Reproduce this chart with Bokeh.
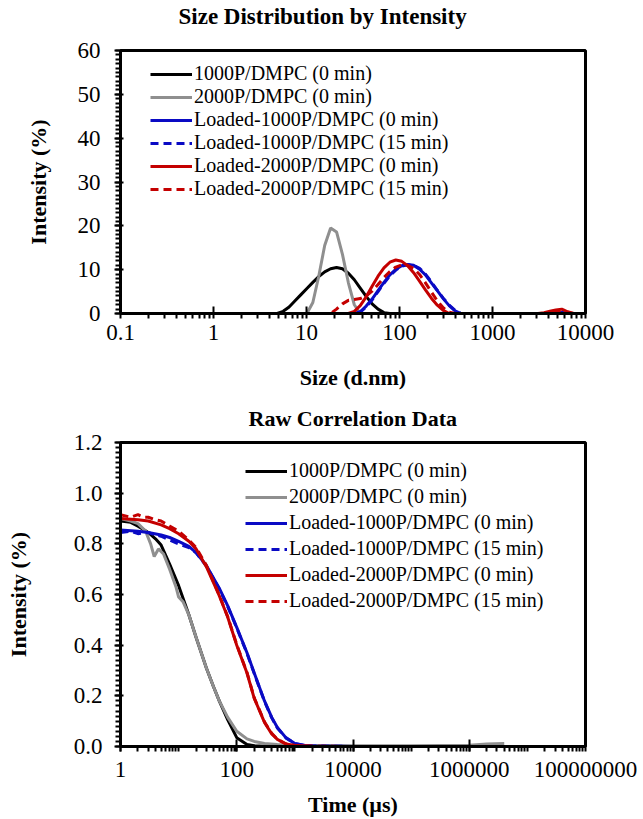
from bokeh.plotting import figure
from bokeh.layouts import column
from bokeh.models import (Range1d, FixedTicker, CustomJSTickFormatter, NumeralTickFormatter,
                          Legend, LegendItem, Title)
from bokeh.embed import file_html
from bokeh.resources import INLINE

# ---------------- data ----------------
SERIES = ["1000P/DMPC (0 min)", "2000P/DMPC (0 min)", "Loaded-1000P/DMPC (0 min)",
          "Loaded-1000P/DMPC (15 min)", "Loaded-2000P/DMPC (0 min)", "Loaded-2000P/DMPC (15 min)"]
COLORS = ["#000000", "#8f8f8f", "#0a0ac4", "#0a0ac4", "#c40000", "#c40000"]
DASHES = ["solid", "solid", "solid", "8 5", "solid", "8 5"]

size_nm = [0.4, 0.4632, 0.5365, 0.6213, 0.7195, 0.8332, 0.9649, 1.117, 1.294, 1.499,
           1.736, 2.01, 2.328, 2.696, 3.122, 3.615, 4.187, 4.849, 5.615, 6.503,
           7.531, 8.721, 10.1, 11.7, 13.54, 15.69, 18.17, 21.04, 24.36, 28.21,
           32.67, 37.84, 43.82, 50.75, 58.77, 68.06, 78.82, 91.28, 105.7, 122.4,
           141.8, 164.2, 190.1, 220.2, 255.0, 295.3, 342.0, 396.1, 458.7, 531.2,
           615.1, 712.4, 825.0, 955.4, 1106, 1281, 1484, 1718, 1990, 2305,
           2669, 3091, 3580, 4145, 4801, 5560, 6439, 7456, 8635, 10000]

int_1000P = [0, 0, 0, 0, 0, 0, 0, 0, 0, 0,
             0, 0, 0, 0, 0, 0, 0, 0, 0.5, 1.5,
             2.9, 4.3, 5.7, 7.1, 8.4, 9.5, 10.2, 10.5, 10.2, 9.2,
             7.7, 5.8, 3.9, 2.2, 1.0, 0.2, 0, 0, 0, 0,
             0, 0, 0, 0, 0, 0, 0, 0, 0, 0,
             0, 0, 0, 0, 0, 0, 0, 0, 0, 0,
             0, 0, 0, 0, 0, 0, 0, 0, 0, 0]
int_2000P = [0, 0, 0, 0, 0, 0, 0, 0, 0, 0,
             0, 0, 0, 0, 0, 0, 0, 0, 0, 0,
             0, 0, 0, 2.5, 8.5, 15.5, 19.5, 18.6, 13.5, 7.0,
             2.0, 0, 0, 0, 0, 0, 0, 0, 0, 0,
             0, 0, 0, 0, 0, 0, 0, 0, 0, 0,
             0, 0, 0, 0, 0, 0, 0, 0, 0, 0,
             0, 0, 0, 0, 0, 0, 0, 0, 0, 0]
int_L1000_0 = [0, 0, 0, 0, 0, 0, 0, 0, 0, 0,
               0, 0, 0, 0, 0, 0, 0, 0, 0, 0,
               0, 0, 0, 0, 0, 0, 0, 0, 0, 0,
               0, 0.4, 1.7, 3.3, 5.2, 7.1, 8.8, 10.1, 10.9, 11.2,
               11.0, 10.1, 8.8, 7.0, 5.2, 3.4, 1.8, 0.6, 0, 0,
               0, 0, 0, 0, 0, 0, 0, 0, 0, 0,
               0, 0, 0, 0, 0, 0.3, 0, 0, 0, 0]
int_L1000_15 = [0, 0, 0, 0, 0, 0, 0, 0, 0, 0,
                0, 0, 0, 0, 0, 0, 0, 0, 0, 0,
                0, 0, 0, 0, 0, 0, 0, 0, 0, 0,
                0, 0.3, 1.5, 3.1, 5.0, 6.9, 8.6, 9.9, 10.8, 11.1,
                11.0, 10.3, 9.0, 7.2, 5.3, 3.5, 1.9, 0.7, 0, 0,
                0, 0, 0, 0, 0, 0, 0, 0, 0, 0,
                0, 0, 0, 0, 0, 0, 0, 0, 0, 0]
int_L2000_0 = [0, 0, 0, 0, 0, 0, 0, 0, 0, 0,
               0, 0, 0, 0, 0, 0, 0, 0, 0, 0,
               0, 0, 0, 0, 0, 0, 0, 0, 0, 0,
               0.5, 1.8, 3.8, 6.2, 8.5, 10.4, 11.7, 12.2, 11.9, 10.9,
               9.3, 7.4, 5.4, 3.5, 1.9, 0.7, 0, 0, 0, 0,
               0, 0, 0, 0, 0, 0, 0, 0, 0, 0,
               0, 0, 0.2, 0.5, 0.8, 1.0, 0.4, 0, 0, 0]
int_L2000_15 = [0, 0, 0, 0, 0, 0, 0, 0, 0, 0,
                0, 0, 0, 0, 0, 0, 0, 0, 0, 0,
                0, 0, 0, 0, 0, 0, 0, 1.0, 2.2, 3.0,
                3.2, 3.4, 4.0, 5.1, 6.6, 8.2, 9.6, 10.6, 11.1, 11.0,
                10.3, 8.9, 7.0, 4.9, 2.9, 1.3, 0.3, 0, 0, 0,
                0, 0, 0, 0, 0, 0, 0, 0, 0, 0,
                0, 0, 0, 0, 0.3, 0.6, 0.2, 0, 0, 0]

# Raw correlation data (time in microseconds)
t_1000P = [1, 1.5, 2, 3, 4, 5, 7, 10, 15, 20, 30, 40, 50, 70, 100, 150, 200, 300, 500,
           1000, 10000, 100000]
g_1000P = [0.89, 0.885, 0.87, 0.845, 0.82, 0.795, 0.72, 0.635, 0.52, 0.43, 0.31, 0.235, 0.18,
           0.105, 0.035, 0.008, 0.003, 0.001, 0, 0, 0, 0]
t_2000P = [1, 1.5, 2, 2.7, 3.3, 3.8, 4.5, 5.5, 7, 9, 10, 12, 15, 20, 30, 40, 50, 70, 100,
           150, 200, 300, 500, 1000, 10000, 100000, 1000000, 2000000, 4000000]
g_2000P = [0.90, 0.89, 0.88, 0.85, 0.80, 0.75, 0.78, 0.76, 0.70, 0.63, 0.59, 0.57, 0.52, 0.43,
           0.31, 0.235, 0.18, 0.115, 0.06, 0.03, 0.02, 0.012, 0.008, 0.005, 0.003, 0.003,
           0.005, 0.01, 0.012]
t_L1000_0 = [1, 2, 3, 5, 7, 10, 15, 20, 30, 50, 70, 100, 150, 200, 300, 400, 500, 700, 1000,
             1500, 2000, 5000, 10000, 100000]
g_L1000_0 = [0.855, 0.85, 0.845, 0.835, 0.825, 0.81, 0.79, 0.765, 0.715, 0.625, 0.555, 0.47,
             0.37, 0.29, 0.18, 0.115, 0.075, 0.035, 0.012, 0.004, 0.002, 0.001, 0, 0]
t_L1000_15 = [1, 1.5, 2, 3, 4, 5, 7, 10, 15, 20, 30, 50, 70, 100, 150, 200, 300, 400, 500,
              700, 1000, 1500, 2000, 5000, 10000]
g_L1000_15 = [0.845, 0.85, 0.84, 0.845, 0.835, 0.83, 0.815, 0.80, 0.785, 0.765, 0.712, 0.622,
              0.552, 0.468, 0.368, 0.288, 0.178, 0.113, 0.073, 0.034, 0.011, 0.004, 0.002,
              0.001, 0]
t_L2000_0 = [1, 2, 3, 5, 7, 10, 15, 20, 30, 50, 70, 100, 150, 200, 300, 400, 500, 700, 1000,
             2000, 10000, 100000, 1000000, 10000000, 60000000]
g_L2000_0 = [0.90, 0.895, 0.89, 0.875, 0.86, 0.84, 0.81, 0.78, 0.71, 0.595, 0.51, 0.40, 0.29,
             0.19, 0.095, 0.05, 0.028, 0.01, 0.004, 0.001, 0, 0, 0, 0, 0]
t_L2000_15 = [1, 1.5, 2, 2.5, 3, 4, 5, 7, 10, 15, 20, 30, 50, 70, 100, 150, 200, 300, 400,
              500, 700, 1000, 2000, 10000, 100000]
g_L2000_15 = [0.915, 0.905, 0.915, 0.905, 0.905, 0.895, 0.89, 0.87, 0.85, 0.815, 0.785, 0.715,
              0.598, 0.512, 0.402, 0.292, 0.192, 0.097, 0.052, 0.029, 0.011, 0.004, 0.001, 0, 0]

size_series = [int_1000P, int_2000P, int_L1000_0, int_L1000_15, int_L2000_0, int_L2000_15]
corr_t = [t_1000P, t_2000P, t_L1000_0, t_L1000_15, t_L2000_0, t_L2000_15]
corr_g = [g_1000P, g_2000P, g_L1000_0, g_L1000_15, g_L2000_0, g_L2000_15]

FONT = "Liberation Serif"


def add_title(p, text, offset, size, gap):
    # small spacer keeps the title clear of the frame, as in the reference
    p.add_layout(Title(text=" ", text_font_size="1px", standoff=gap), "above")
    p.add_layout(Title(text=text, text_font=FONT, text_font_size=size, text_font_style="bold",
                       text_color="black", align="left", offset=offset, standoff=2), "above")


def style(p):
    p.outline_line_color = "black"
    p.outline_line_width = 3
    p.outline_line_alpha = 1
    p.xgrid.visible = False
    p.ygrid.visible = False
    p.background_fill_color = "white"
    p.border_fill_color = "white"
    for ax in (p.xaxis[0], p.yaxis[0]):
        ax.axis_line_width = 3
        ax.axis_line_color = "black"
        ax.major_tick_line_width = 2
        ax.minor_tick_line_width = 2
        ax.major_tick_line_color = "black"
        ax.minor_tick_line_color = "black"
        ax.major_label_text_font = FONT
        ax.major_label_text_font_size = "23px"
        ax.major_label_text_color = "black"
        ax.axis_label_text_font = FONT
        ax.axis_label_text_font_size = "22px"
        ax.axis_label_text_font_style = "bold"
        ax.axis_label_text_color = "black"
    p.yaxis[0].major_tick_in = 3
    p.yaxis[0].major_tick_out = 6
    p.yaxis[0].minor_tick_in = 0
    p.yaxis[0].minor_tick_out = 5
    p.xaxis[0].major_tick_in = 7
    p.xaxis[0].major_tick_out = 5
    p.xaxis[0].minor_tick_in = 0
    p.xaxis[0].minor_tick_out = 5


def make_legend(p, renderers, loc, spacing):
    items = [LegendItem(label=n, renderers=[r]) for n, r in zip(SERIES, renderers)]
    lg = Legend(items=items, location=loc)
    lg.label_text_font = FONT
    lg.label_text_font_size = "20px"
    lg.label_text_color = "black"
    lg.glyph_width = 42
    lg.glyph_height = 20
    lg.label_height = 20
    lg.label_standoff = 2
    lg.spacing = spacing
    lg.padding = 0
    lg.margin = 0
    lg.border_line_color = None
    lg.background_fill_alpha = 0
    p.add_layout(lg, "center")


# ---------------- top: size distribution ----------------
p1 = figure(width=643, height=400, x_axis_type="log", output_backend="svg",
            toolbar_location=None,
            x_range=Range1d(0.1, 10000), y_range=Range1d(0, 60),
            min_border_left=120, min_border_right=38, min_border_top=48, min_border_bottom=87)
style(p1)
add_title(p1, "Size Distribution by Intensity", 58, "23px", 18)
rs = []
for ys, c, d in zip(size_series, COLORS, DASHES):
    rs.append(p1.line(size_nm, ys, line_color=c, line_width=3, line_dash=d))
make_legend(p1, rs, (30, 113), 0)

dec1 = [0.1, 1, 10, 100, 1000, 10000]
p1.xaxis[0].ticker = FixedTicker(ticks=dec1,
                                 minor_ticks=[k * d for d in dec1[:-1] for k in range(2, 10)])
p1.xaxis[0].formatter = CustomJSTickFormatter(code="return tick < 1 ? tick.toFixed(1) : tick.toFixed(0);")
p1.yaxis[0].ticker = FixedTicker(ticks=list(range(0, 61, 10)), minor_ticks=list(range(0, 61)))
p1.xaxis[0].axis_label = "Size (d.nm)"
p1.yaxis[0].axis_label = "Intensity (%)"
p1.xaxis[0].major_label_standoff = 6
p1.xaxis[0].axis_label_standoff = 22
p1.yaxis[0].major_label_standoff = 14
p1.yaxis[0].axis_label_standoff = 24

# ---------------- bottom: raw correlation ----------------
p2 = figure(width=643, height=419, x_axis_type="log", output_backend="svg",
            toolbar_location=None,
            x_range=Range1d(1, 100000000), y_range=Range1d(0, 1.2),
            min_border_left=113, min_border_right=58, min_border_top=42, min_border_bottom=73)
style(p2)
add_title(p2, "Raw Correlation Data", 128, "22px", 8)
rs2 = []
for ts, gs, c, d in zip(corr_t, corr_g, COLORS, DASHES):
    rs2.append(p2.line(ts, gs, line_color=c, line_width=3, line_dash=d))
make_legend(p2, rs2, (125, 134), 3)

maj2 = [1, 100, 10000, 1000000, 100000000]
decs2 = [1, 10, 100, 1000, 10000, 100000, 1000000, 10000000]
p2.xaxis[0].ticker = FixedTicker(ticks=maj2,
                                 minor_ticks=[k * d for d in decs2 for k in range(1, 10)])
p2.xaxis[0].formatter = CustomJSTickFormatter(code="return tick.toFixed(0);")
p2.yaxis[0].ticker = FixedTicker(ticks=[0, 0.2, 0.4, 0.6, 0.8, 1.0, 1.2],
                                 minor_ticks=[i * 0.02 for i in range(0, 61)])
p2.yaxis[0].formatter = NumeralTickFormatter(format="0.0")
p2.xaxis[0].axis_label = "Time (µs)"
p2.yaxis[0].axis_label = "Intensity (%)"
p2.xaxis[0].major_label_standoff = 10
p2.xaxis[0].axis_label_standoff = 12
p2.yaxis[0].major_label_standoff = 12
p2.yaxis[0].axis_label_standoff = 40

layout = column(p1, p2)
open("out.html", "w").write(file_html(layout, INLINE))
